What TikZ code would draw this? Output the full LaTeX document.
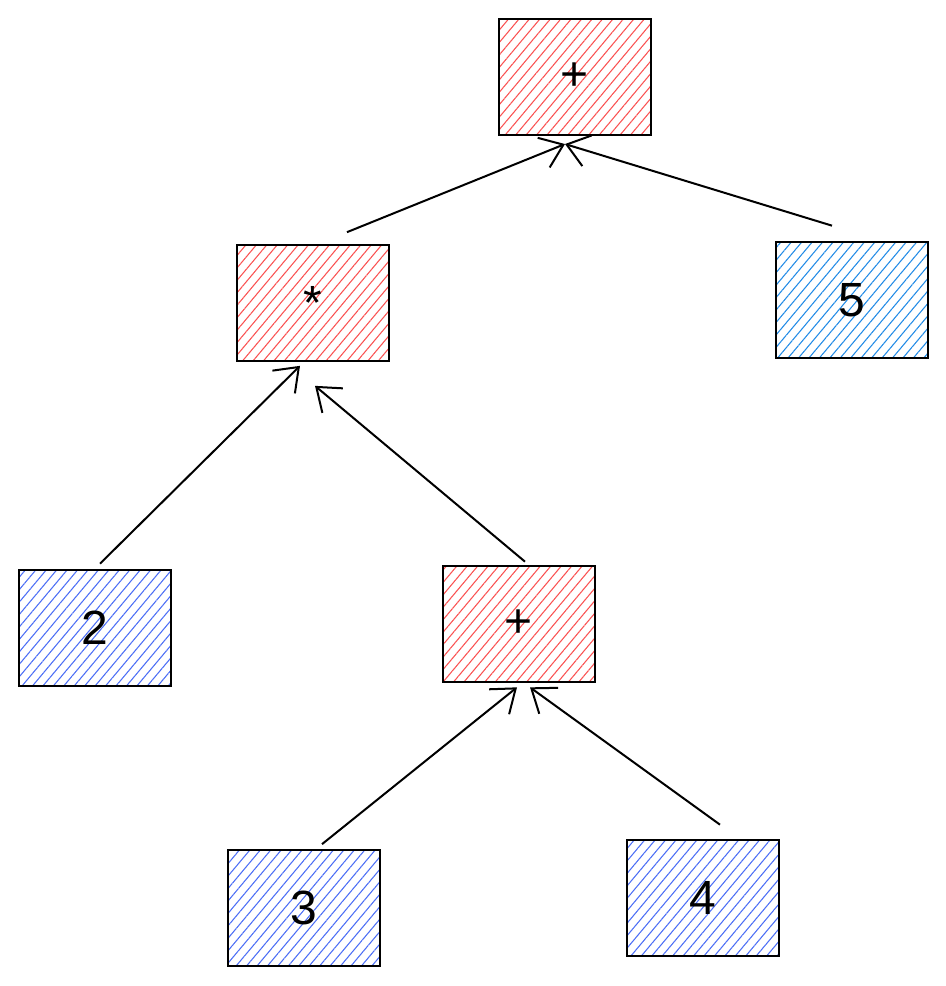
\documentclass[tikz,border=0pt]{standalone}
\usepackage{fontspec}
\setmainfont{Liberation Sans}
\usepackage{xcolor}
\usepackage{tikz}
\usetikzlibrary{arrows.meta,patterns.meta}

\definecolor{opred}{HTML}{FA5252}
\definecolor{numblue}{HTML}{228BE6}
\definecolor{numindigo}{HTML}{4C6EF5}

\begin{document}
\begin{tikzpicture}[
    x=0.75pt, y=-0.75pt,
    box/.style={rectangle, draw, line width=2pt, minimum width=114pt, minimum height=87pt, font=\fontsize{36}{40}\selectfont},
    op/.style={box, pattern={Lines[angle=50, distance=6pt, line width=0.8pt]}, pattern color=opred},
    num/.style={box, pattern={Lines[angle=50, distance=6pt, line width=0.8pt]}, pattern color=numindigo},
    arrow/.style={-{Straight Barb[length=16pt, width=24pt, line width=1.5pt]}, line width=1.5pt}
]
\useasboundingbox (0,0) rectangle (946,986);
\node[op] (top) at (575,77) {+};
\node[op] (mul) at (313,303) {*};
\node[num, pattern color=numblue] (five) at (852,300) {5};
\node[num] (two) at (95,628) {2};
\node[op] (add) at (519,624) {+};
\node[num] (three) at (304,908) {3};
\node[num] (four) at (703,898) {4};
\draw[arrow] ([shift={(34,-11.5)}]mul.north) -- ([shift={(-10,8.5)}]top.south);
\draw[arrow] ([shift={(-20,-15)}]five.north) -- ([shift={(-10,8.5)}]top.south);
\draw[arrow] ([shift={(5,-5)}]two.north) -- ([shift={(-13,3.5)}]mul.south);
\draw[arrow] ([shift={(6,-3)}]add.north) -- ([shift={(2,23.5)}]mul.south);
\draw[arrow] ([shift={(18,-4.5)}]three.north) -- ([shift={(-2,4)}]add.south);
\draw[arrow] ([shift={(17,-14)}]four.north) -- ([shift={(11,4)}]add.south);
\end{tikzpicture}
\end{document}
